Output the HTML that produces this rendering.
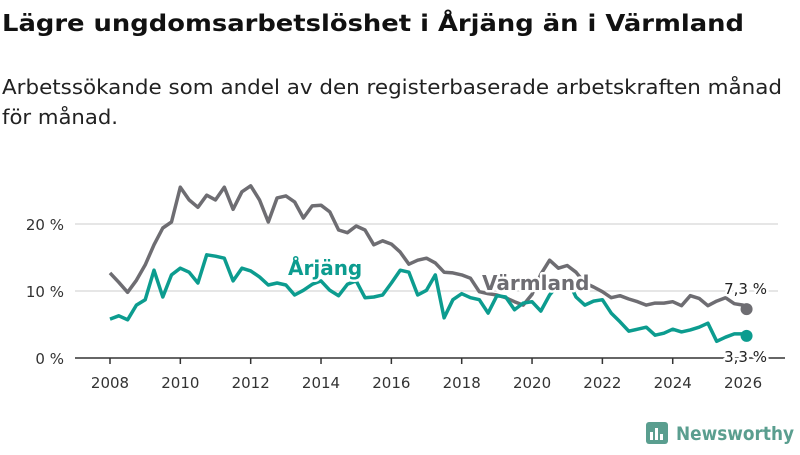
<!DOCTYPE html>
<html><head><meta charset="utf-8"><style>
body{margin:0;background:#fff;width:800px;height:450px;overflow:hidden;font-family:"Liberation Sans","DejaVu Sans",sans-serif}
svg text{font-family:"DejaVu Sans","Liberation Sans",sans-serif}
</style></head><body>
<svg width="800" height="450">
<text x="2" y="31" font-size="23" font-weight="bold" fill="#111" textLength="742" lengthAdjust="spacingAndGlyphs">Lägre ungdomsarbetslöshet i Årjäng än i Värmland</text>
<text x="2" y="94" font-size="20" fill="#222" textLength="780" lengthAdjust="spacingAndGlyphs">Arbetssökande som andel av den registerbaserade arbetskraften månad</text>
<text x="2" y="124" font-size="20" fill="#222" textLength="116" lengthAdjust="spacingAndGlyphs">för månad.</text>
<g id="grid"></g><g id="lines"></g><g id="labels"></g>
<g>
<rect x="646" y="422" width="22" height="22" rx="3" fill="#5a9e8f"/>
<rect x="650" y="432" width="3" height="8" fill="#fff"/><rect x="655" y="428" width="3" height="12" fill="#fff"/><rect x="660" y="434" width="3" height="6" fill="#fff"/>
<text x="676" y="440" font-size="19" font-weight="bold" fill="#5a9e8f" textLength="118" lengthAdjust="spacingAndGlyphs">Newsworthy</text>
</g>
</svg>
<script>
const years=[2008,2008.25,2008.5,2008.75,2009,2009.25,2009.5,2009.75,2010,2010.25,2010.5,2010.75,2011,2011.25,2011.5,2011.75,2012,2012.25,2012.5,2012.75,2013,2013.25,2013.5,2013.75,2014,2014.25,2014.5,2014.75,2015,2015.25,2015.5,2015.75,2016,2016.25,2016.5,2016.75,2017,2017.25,2017.5,2017.75,2018,2018.25,2018.5,2018.75,2019,2019.25,2019.5,2019.75,2020,2020.25,2020.5,2020.75,2021,2021.25,2021.5,2021.75,2022,2022.25,2022.5,2022.75,2023,2023.25,2023.5,2023.75,2024,2024.25,2024.5,2024.75,2025,2025.25,2025.5,2025.75,2026,2026.1];
const varmland=[12.7,11.3,9.8,11.6,13.9,16.9,19.4,20.3,25.5,23.6,22.5,24.3,23.6,25.5,22.2,24.8,25.7,23.6,20.3,23.9,24.2,23.3,20.9,22.7,22.8,21.8,19.1,18.7,19.7,19.1,16.9,17.5,17,15.8,14,14.6,14.9,14.2,12.8,12.7,12.4,11.9,9.9,9.6,9.4,9,8.4,7.9,9.5,12.5,14.6,13.4,13.8,12.8,11.2,10.6,9.9,9,9.3,8.8,8.4,7.9,8.2,8.2,8.4,7.8,9.3,8.9,7.8,8.5,9,8.1,7.9,7.3];
const arjang=[5.8,6.3,5.7,7.9,8.7,13.1,9.1,12.4,13.4,12.8,11.2,15.4,15.2,14.9,11.5,13.4,13,12.1,10.9,11.2,10.9,9.4,10.1,11,11.5,10.1,9.3,11,11.5,9,9.1,9.4,11.2,13.1,12.8,9.4,10.1,12.4,6,8.7,9.6,9,8.7,6.7,9.3,9.1,7.2,8.2,8.4,7,9.4,11,11.8,9.1,7.9,8.5,8.7,6.7,5.4,4,4.3,4.6,3.4,3.7,4.3,3.9,4.2,4.6,5.2,2.5,3.1,3.6,3.6,3.3];
const yTicks=[0,10,20];
const xTicks=[2008,2010,2012,2014,2016,2018,2020,2022,2024,2026];
const X=v=>110+(v-2008)*35.17, Y=v=>358-v*6.7;
const NS='http://www.w3.org/2000/svg';
function mk(tag,attrs,parent,txt){const e=document.createElementNS(NS,tag);for(const k in attrs)e.setAttribute(k,attrs[k]);if(txt!=null)e.textContent=txt;document.getElementById(parent).appendChild(e);return e;}
yTicks.forEach(t=>{
  if(t>0){const l=mk('line',{x1:75,x2:778,y1:Y(t),y2:Y(t),stroke:'#ddd','stroke-width':1.5},'grid');
  
  }
  const tx=mk('text',{x:64,y:Y(t)+6,'font-size':15,'text-anchor':'end',fill:'#333'},'grid',t+' %');
  
  
});
const ax=mk('line',{x1:75,x2:785,y1:358,y2:358,stroke:'#333','stroke-width':1.5},'grid');


xTicks.forEach(t=>{
  mk('line',{x1:X(t),x2:X(t),y1:358,y2:364,stroke:'#333','stroke-width':1.5},'grid');
  const tx=mk('text',{x:X(t),y:388,'font-size':15,'text-anchor':'middle',fill:'#333'},'grid',t);
  
  
});
function path(vals){return vals.map((v,i)=>(i?'L':'M')+X(years[i]).toFixed(1)+','+Y(v).toFixed(1)).join('');}
const pv=mk('path',{d:path(varmland),fill:'none',stroke:'#6e6d72','stroke-width':3.5,'stroke-linejoin':'round'},'lines');


const pa=mk('path',{d:path(arjang),fill:'none',stroke:'#0c9c8f','stroke-width':3.5,'stroke-linejoin':'round'},'lines');


const n=years.length-1;
const dv=mk('circle',{cx:X(years[n]),cy:Y(varmland[n]),r:6,fill:'#6e6d72'},'lines');


const da=mk('circle',{cx:X(years[n]),cy:Y(arjang[n]),r:6,fill:'#0c9c8f'},'lines');


const halo={stroke:'#fff','stroke-width':5,'paint-order':'stroke','stroke-linejoin':'round'};
const la=mk('text',Object.assign({x:288,y:275,'font-size':20,'font-weight':'bold',fill:'#0c9c8f'},halo),'labels','Årjäng');


const lv=mk('text',Object.assign({x:482,y:290,'font-size':20,'font-weight':'bold',fill:'#6e6d72'},halo),'labels','Värmland');


const ev=mk('text',Object.assign({x:767,y:294,'font-size':15,'text-anchor':'end',fill:'#222'},halo),'labels',String(varmland[n]).replace('.',',')+' %');


const ea=mk('text',Object.assign({x:767,y:362,'font-size':15,'text-anchor':'end',fill:'#222'},halo),'labels',String(arjang[n]).replace('.',',')+' %');


</script>
</body></html>
